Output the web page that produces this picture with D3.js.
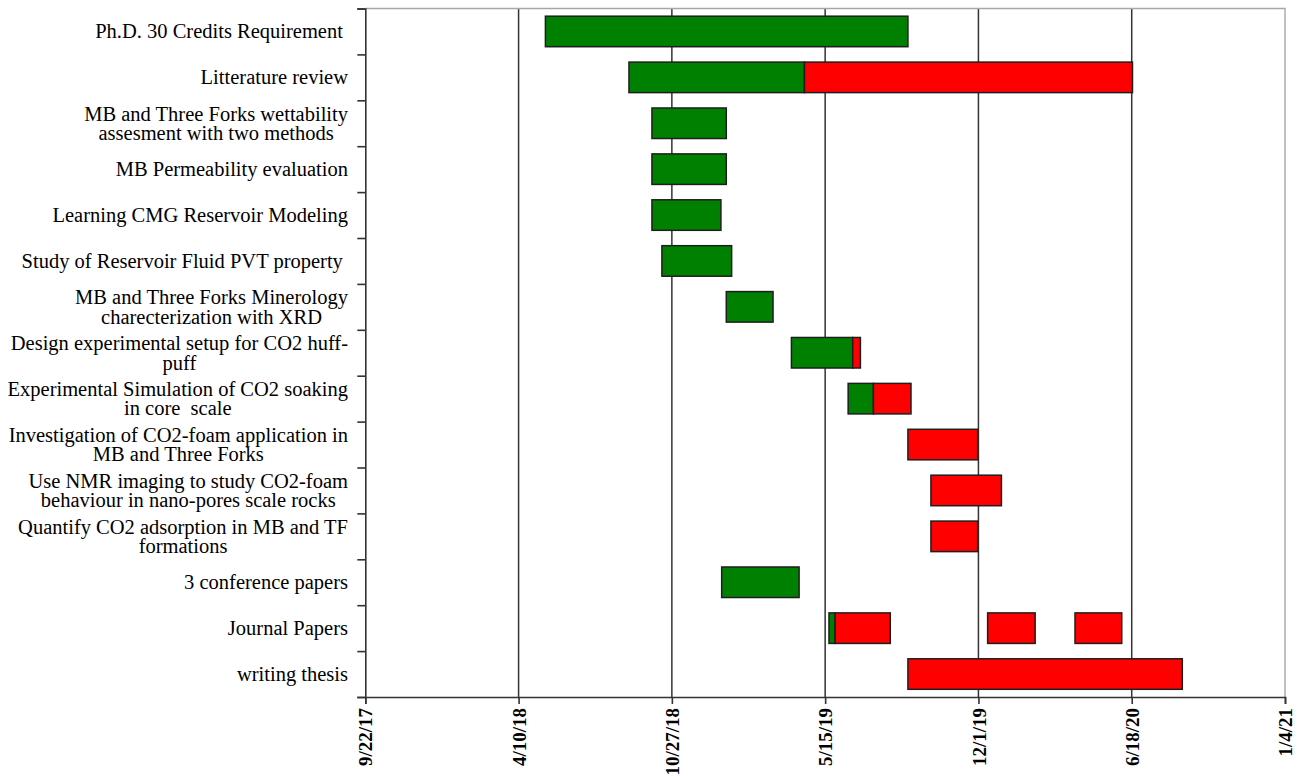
<!DOCTYPE html>
<html lang="en">
<head>
<meta charset="utf-8">
<title>Ph.D. schedule</title>
<script src="https://d3js.org/d3.v7.min.js"></script>
<style>
  body { margin: 0; background: #fff; }
  text { font-family: "Liberation Serif", "Times New Roman", serif; }
</style>
</head>
<body>
<div id="chart"></div>
<script>
// task names, one entry per row (lines of the wrapped label)
var tasks = [
  ["Ph.D. 30 Credits Requirement "],
  ["Litterature review"],
  ["MB and Three Forks wettability", "assesment with two methods"],
  ["MB Permeability evaluation"],
  ["Learning CMG Reservoir Modeling"],
  ["Study of Reservoir Fluid PVT property "],
  ["MB and Three Forks Minerology", "charecterization with XRD"],
  ["Design experimental setup for CO2 huff-", "puff"],
  ["Experimental Simulation of CO2 soaking", "in core  scale"],
  ["Investigation of CO2-foam application in", "MB and Three Forks"],
  ["Use NMR imaging to study CO2-foam", "behaviour in nano-pores scale rocks"],
  ["Quantify CO2 adsorption in MB and TF", "formations"],
  ["3 conference papers"],
  ["Journal Papers"],
  ["writing thesis"]
];

// finished parts (green): [row, start, end]
var done = [
  [0, "2018-05-15", "2019-08-31"],
  [1, "2018-09-01", "2019-04-18"],
  [2, "2018-10-01", "2019-01-06"],
  [3, "2018-10-01", "2019-01-06"],
  [4, "2018-10-01", "2018-12-30"],
  [5, "2018-10-14", "2019-01-13"],
  [6, "2019-01-06", "2019-03-08"],
  [7, "2019-04-01", "2019-06-20"],
  [8, "2019-06-14", "2019-07-17"],
  [12, "2018-12-31", "2019-04-11"],
  [13, "2019-05-20", "2019-05-28"]
];

// remaining parts (red): [row, start, end]
var planned = [
  [1, "2019-04-18", "2020-06-19"],
  [7, "2019-06-20", "2019-06-30"],
  [8, "2019-07-17", "2019-09-04"],
  [9, "2019-08-31", "2019-11-30"],
  [10, "2019-09-30", "2019-12-31"],
  [11, "2019-09-30", "2019-11-30"],
  [13, "2019-05-28", "2019-08-08"],
  [13, "2019-12-13", "2020-02-13"],
  [13, "2020-04-05", "2020-06-05"],
  [14, "2019-08-31", "2020-08-23"]
];

// x axis ticks (every 200 days)
var tickDates = ["2017-09-22", "2018-04-10", "2018-10-27", "2019-05-15",
                 "2019-12-01", "2020-06-18", "2021-01-04"];

var W = 1299, H = 776;
var padL = 365.3, padR = 1285, padT = 8.5, padB = 697;

var parse = d3.utcParse("%Y-%m-%d");
var fmt = d3.utcFormat("%-m/%-d/%y");
var ticks = tickDates.map(parse);

var svg = d3.select("#chart").append("svg")
  .attr("width", W)
  .attr("height", H);

var x = d3.scaleUtc()
  .domain([ticks[0], ticks[ticks.length - 1]])
  .range([padL, padR]);

var y = d3.scaleBand()
  .domain(d3.range(tasks.length))
  .range([padT, padB])
  .paddingInner(0.335)
  .paddingOuter(0.1675);

// row boundaries for the left axis ticks
var yEdge = d3.scaleLinear().domain([0, tasks.length]).range([padT, padB]);

// vertical gridlines
svg.append("g").selectAll("line")
  .data(ticks.slice(1, -1))
  .join("line")
    .attr("x1", d => x(d)).attr("x2", d => x(d))
    .attr("y1", padT).attr("y2", padB)
    .attr("stroke", "#333")
    .attr("stroke-width", 1.5);

// light frame top and right
svg.append("path")
  .attr("d", `M${padL},${padT}H${padR}V${padB}`)
  .attr("fill", "none")
  .attr("stroke", "#a6a6a6")
  .attr("stroke-width", 1.4);

var segs = done.map(d => ({row: d[0], s: parse(d[1]), e: parse(d[2]), st: "done"}))
  .concat(planned.map(d => ({row: d[0], s: parse(d[1]), e: parse(d[2]), st: "planned"})));

var color = d3.scaleOrdinal().domain(["done", "planned"]).range(["#008000", "#ff0000"]);

svg.append("g").selectAll("rect")
  .data(segs)
  .join("rect")
    .attr("x", d => x(d.s))
    .attr("y", d => y(d.row))
    .attr("width", d => x(d.e) - x(d.s))
    .attr("height", y.bandwidth())
    .attr("fill", d => color(d.st))
    .attr("stroke", "#1e1e1e")
    .attr("stroke-width", 1.5);

// left axis (ticks between rows)
svg.append("g")
  .attr("transform", `translate(${padL},0)`)
  .call(d3.axisLeft(yEdge).tickValues(d3.range(tasks.length + 1)).tickSize(8).tickFormat(""))
  .call(g => g.selectAll("path, line").attr("stroke", "#333").attr("stroke-width", 1.6));

// bottom axis
var xa = svg.append("g")
  .attr("transform", `translate(0,${padB})`)
  .call(d3.axisBottom(x).tickValues(ticks).tickSize(7).tickFormat(fmt));
xa.selectAll("path, line").attr("stroke", "#333").attr("stroke-width", 1.6);
xa.selectAll("text")
  .attr("y", 0).attr("x", -11).attr("dy", "0.35em")
  .attr("transform", "rotate(-90)")
  .style("text-anchor", "end")
  .style("font-family", "'Liberation Serif', serif")
  .style("font-weight", "bold")
  .style("font-size", "19px")
  .attr("fill", "#000");

// category labels, wrapped lines centred in a right-aligned block
var labelRight = 348, lineH = 19.5;
var lab = svg.append("g").attr("font-size", 20.5).attr("fill", "#000");
tasks.forEach(function(lines, i) {
  var cy = y(i) + y.bandwidth() / 2;
  var t = lab.append("text").style("white-space", "pre");
  var spans = lines.map(function(l, k) {
    return t.append("tspan")
      .attr("y", cy + (k - (lines.length - 1) / 2) * lineH + 7)
      .text(l);
  });
  if (lines.length == 1) {
    spans[0].attr("x", labelRight).attr("text-anchor", "end");
  } else {
    var w = d3.max(spans, s => s.node().getComputedTextLength());
    spans.forEach(s => s.attr("x", labelRight - w / 2).attr("text-anchor", "middle"));
  }
});
</script>
</body>
</html>
